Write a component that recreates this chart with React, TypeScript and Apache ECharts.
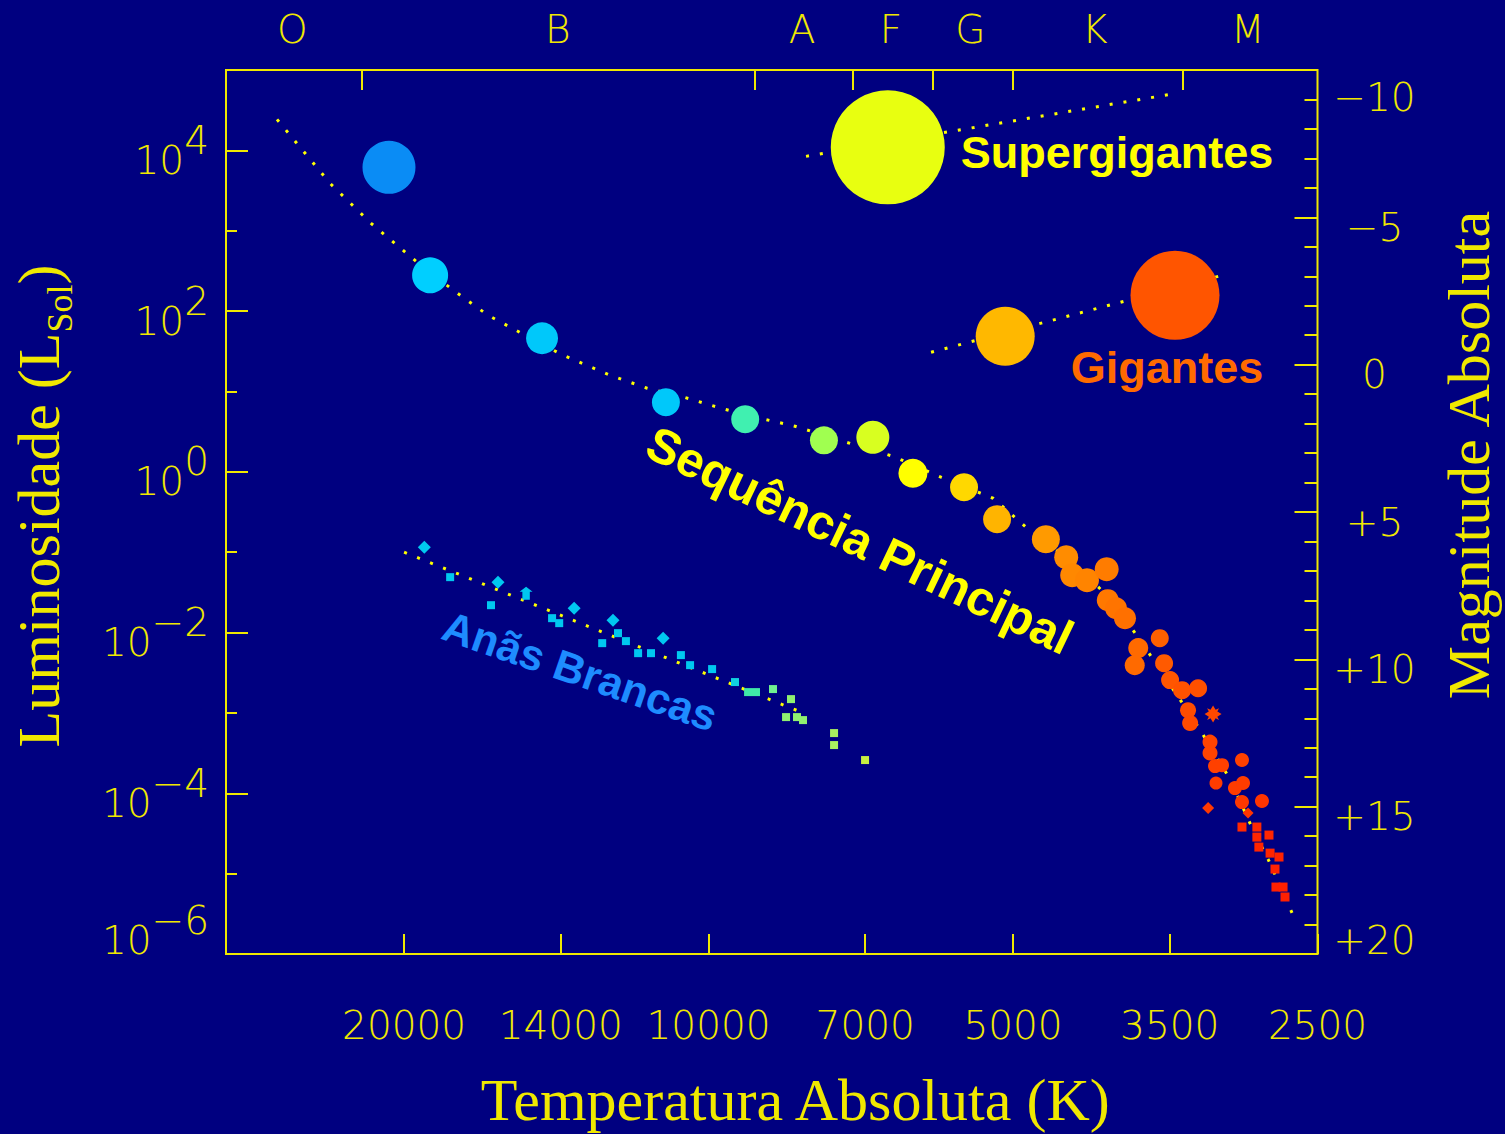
import React, { useEffect, useRef } from 'react';
import * as echarts from 'echarts';

const W = 1505;
const H = 1134;
const BG = '#000080';
const AX = '#f0e800';
const DOT = '#ffff00';

// ---------- axis values ----------
const tempTicks = [20000, 14000, 10000, 7000, 5000, 3500, 2500];
const classBounds = [22000, 9000, 7200, 6000, 5000, 3400];
const classLetters = ['O', 'B', 'A', 'F', 'G', 'K', 'M'];
const classCenters = [25800, 14100, 8080, 6600, 5510, 4150, 2930];
const lumMajorExp = [-6, -4, -2, 0, 2, 4];
const lumMinorExp = [-5, -3, -1, 1, 3];
const tMin = 2500;
const tMax = 30000;
const lumMinExp = -6;
const lumMaxExp = 5;
const magMin = -10;
const magMax = 20;

// ---------- main sequence stars ----------
const msTemp = [20700, 18850, 14610, 11020, 9200, 7690, 6880, 6280, 5590, 5185,
  4640, 4430, 4370, 4225, 4040, 4030, 3955, 3875, 3580, 3760,
  3790, 3545, 3497, 3403, 3281, 3357, 3341, 3171, 3193, 3193,
  3157, 3107, 2969, 3150, 3017, 2962, 3207, 2969, 2928, 2837,
  2969, 2870, 2870, 2792, 2857, 2785, 2729, 2754, 2748, 2704, 2692];
const msLum = [6150, 279, 45.9, 7.34, 4.51, 2.47, 2.69, 0.96, 0.643, 0.257,
  0.145, 0.0867, 0.0518, 0.0448, 0.0615, 0.0253, 0.0201, 0.0151, 0.00852, 0.0064,
  0.00393, 0.00416, 0.00256, 0.00192, 0.00203, 0.00108, 0.000747, 0.000966, 0.000433, 0.000316,
  0.000218, 0.000224, 0.000259, 0.000134, 0.000116, 0.000134, 6.54e-5, 7.77e-5, 5.67e-5, 8.0e-5,
  3.8e-5, 3.8e-5, 2.85e-5, 3.02e-5, 2.14e-5, 1.8e-5, 1.61e-5, 1.14e-5, 6.81e-6, 6.81e-6, 5.12e-6];

// ---------- giants & supergiants ----------
const giantTemp = [5090, 3458];
const giantLum = [48.6, 157];
const superTemp = [6650];
const superLum = [10900];

// ---------- white dwarfs ----------
const wdTemp = [19100, 18010, 16150, 15150, 16410, 13580, 14280, 14050, 12430, 12290,
  12070, 12740, 11090, 11740, 11400, 10650, 10430, 9920, 9416, 9140,
  8976, 8636, 8289, 8383, 8176, 8065, 7515, 7515, 7003];
const wdLum = [0.1154, 0.0489, 0.0424, 0.0309, 0.0219, 0.0201, 0.0151, 0.01309, 0.01426, 0.00983,
  0.00782, 0.00738, 0.00852, 0.00554, 0.00554, 0.00524, 0.00393, 0.00351, 0.00242, 0.001815,
  0.001815, 0.00198, 0.001485, 0.000887, 0.000887, 0.000814, 0.000561, 0.000398, 0.000259];

// ---------- dotted guide curves ----------
const msLineTemp = [26710, 23670, 21560, 19460, 17930, 16520, 15180, 13990, 12510, 11500,
  10570, 9719, 8895, 8213, 7364, 6572, 5891, 5233, 4843, 4392,
  4010, 3762, 3619, 3274, 3051, 2889, 2798, 2649];
const msLineLum = [24300, 3887, 1236, 416, 186.7, 88.7, 50.0, 29.0, 15.9, 10.96,
  8.47, 6.18, 4.64, 3.69, 2.40, 1.563, 0.857, 0.469, 0.199, 0.0795,
  0.0268, 0.00877, 0.00428, 0.000647, 0.00015, 3.29e-5, 1.52e-5, 3.24e-6];
const superLineTemp = [8010, 5680, 3497];
const superLineLum = [8423, 17740, 49700];
const giantLineTemp = [6026, 3079];
const giantLineLum = [30.7, 286.9];
const wdLineTemp = [20000, 8010];
const wdLineLum = [0.1, 0.000966];

// ---------- annotations ----------
const annoText = ['Supergigantes', 'Gigantes', 'Sequência Principal', 'Anãs Brancas'];
const annoTemp = [3946, 3521, 7084, 13400];
const annoLum = [9441, 20.0, 0.141, 0.00331];

// ---------- styles (kept apart from values) ----------
const msSize = [53, 36, 32, 28, 28, 28, 33, 29, 28, 28,
  28, 24, 24, 24, 24, 22, 22, 22, 18, 20,
  20, 18, 18, 18, 18, 16, 16, 17, 15, 15,
  14, 14, 14, 13, 14, 14, 12, 14, 11, 14,
  9, 9, 9, 9, 9, 9, 9, 9, 9, 9, 9];
const msColor = ['#0a8cf5', '#00cfff', '#00c8fa', '#00c8fa', '#40f0b0', '#a0ff50', '#d8ff20', '#ffff00', '#ffd800', '#ffb400',
  '#ff9a00', '#ff8c00', '#ff8800', '#ff8400', '#ff7c00', '#ff7800', '#ff7400', '#ff7000', '#ff6000', '#ff6a00',
  '#ff6a00', '#ff5a00', '#ff5600', '#ff5200', '#ff5000', '#ff4c00', '#ff4a00', '#ff4800', '#ff4400', '#ff4400',
  '#ff4000', '#ff4000', '#ff4000', '#ff3c00', '#ff3c00', '#ff3c00', '#ff3800', '#ff3800', '#ff3400', '#ff3400',
  '#ff2800', '#ff2800', '#ff2600', '#ff2600', '#ff2400', '#ff2400', '#ff2200', '#ff2200', '#ff2000', '#ff2000', '#ff2000'];
const STAR = 'path://M0,-10L3,-5L7,-7L5,-3L10,0L5,3L7,7L3,5L0,10L-3,5L-7,7L-5,3L-10,0L-5,-3L-7,-7L-3,-5Z';
const ARROW = 'path://M0,-10L7,-3L4,-3L4,8L-4,8L-4,-3L-7,-3Z';
const msSymbol = msTemp.map((_, i) => (i === 27 ? STAR : i === 36 || i === 38 ? 'diamond' : i >= 40 ? 'rect' : 'circle'));
const giantSize = [59, 89];
const giantColor = ['#ffb800', '#ff5500'];
const superSize = [114];
const superColor = ['#e8ff10'];
const wdSymbol = ['diamond', 'rect', 'diamond', ARROW, 'rect', 'diamond', 'rect', 'rect', 'diamond', 'rect',
  'rect', 'rect', 'diamond', 'rect', 'rect', 'rect', 'rect', 'rect', 'rect', 'rect',
  'rect', 'rect', 'rect', 'rect', 'rect', 'rect', 'rect', 'rect', 'rect'];
const wdSize = wdSymbol.map((s) => (s === 'rect' ? 8 : 13));
const wdColor = ['#00c8f0', '#00c8f0', '#00c8f0', '#00c8f0', '#00c8f0', '#00c8f0', '#00c8f0', '#00c8f0', '#00c8f0', '#00c8f0',
  '#00c8f0', '#00c8f0', '#00c8f0', '#00c8f0', '#00c8f0', '#00c8f0', '#00c8f0', '#00c8f0', '#10d0e0', '#40e8a8',
  '#40e8a8', '#70f090', '#90f070', '#90f070', '#90f070', '#90f070', '#a8f060', '#a8f060', '#c8f040'];
const annoStyle = [
  { color: '#ffff00', border: '#a00000', size: 45, rotate: 0 },
  { color: '#ff6a00', border: '#a00000', size: 45, rotate: 0 },
  { color: '#ffff00', border: '#a00000', size: 49, rotate: -25.5 },
  { color: '#1e8cff', border: '#0040a0', size: 43, rotate: -19 },
];

const lg = Math.log10;
const pts = (t: number[], l: number[]) => t.map((v, i) => [lg(v), lg(l[i])]);

const tickFont = { color: AX, fontFamily: 'DejaVu Sans', fontSize: 39, fontWeight: 200 };
const titleFont = { color: AX, fontFamily: 'Liberation Serif', fontSize: 60 };
const tickLine = { color: AX, width: 2 };
const noLine = { show: false, onZero: false };

function expText(e: number): string {
  return e < 0 ? '\u2212' + String(-e) : String(e);
}

function buildOption(): any {
  const dotted = (t: number[], l: number[]) => ({
    type: 'line',
    data: pts(t, l),
    showSymbol: false,
    symbol: 'none',
    silent: true,
    z: 1,
    lineStyle: { color: DOT, width: 3, type: [3, 11], cap: 'butt' },
  });
  const scatter = (t: number[], l: number[], size: number[], color: string[], symbol?: string[]) => ({
    type: 'scatter',
    z: 3,
    silent: true,
    data: pts(t, l).map((v, i) => ({
      value: v,
      symbol: symbol ? symbol[i] : 'circle',
      symbolSize: size[i],
      itemStyle: { color: color[i], opacity: 1 },
    })),
  });

  return {
    animation: false,
    backgroundColor: BG,
    grid: {
      left: 226, right: 187.5, top: 70, bottom: 180,
      show: true, borderColor: AX, borderWidth: 2, backgroundColor: 'transparent',
      containLabel: false, outerBoundsMode: 'none',
    },
    xAxis: [
      {
        type: 'value', position: 'bottom', min: lg(tMin), max: lg(tMax), inverse: true,
        axisLine: noLine, splitLine: { show: false },
        axisTick: { show: true, inside: true, length: 20, lineStyle: tickLine, customValues: tempTicks.map(lg) },
        axisLabel: {
          show: true, margin: 52, customValues: tempTicks.map(lg), ...tickFont,
          formatter: (v: number) => String(Math.round(Math.pow(10, v))),
        },
        name: 'Temperatura Absoluta (K)', nameLocation: 'middle', nameGap: 116, nameMoveOverlap: false,
        nameTextStyle: { ...titleFont, padding: [0, 0, 0, 47] },
      },
      {
        type: 'value', position: 'top', min: lg(tMin), max: lg(tMax), inverse: true,
        axisLine: noLine, splitLine: { show: false },
        axisTick: { show: true, inside: true, length: 20, lineStyle: tickLine, customValues: classBounds.map(lg) },
        axisLabel: {
          show: true, margin: 21, customValues: classCenters.map(lg), ...tickFont,
          formatter: (v: number) => {
            let best = 0;
            classCenters.forEach((c, i) => {
              if (Math.abs(lg(c) - v) < Math.abs(lg(classCenters[best]) - v)) best = i;
            });
            return classLetters[best];
          },
        },
      },
    ],
    yAxis: [
      {
        type: 'value', position: 'left', min: lumMinExp, max: lumMaxExp,
        axisLine: noLine, splitLine: { show: false },
        axisTick: { show: true, inside: true, length: 22, lineStyle: tickLine, customValues: lumMajorExp },
        axisLabel: {
          show: true, margin: 17, customValues: lumMajorExp, ...tickFont,
          formatter: (v: number) => {
            const e = Math.round(v);
            return e === lumMinExp ? `{bl|10}{sl|${expText(e)}}` : `{b|10}{s|${expText(e)}}`;
          },
          rich: {
            b: { ...tickFont, padding: [20, 0, 0, 0] },
            s: { ...tickFont, padding: [0, 0, 20, 0] },
            bl: { ...tickFont, padding: [0, 0, 28, 0] },
            sl: { ...tickFont, padding: [0, 0, 68, 0] },
          },
        },
        name: '{a|Luminosidade (L}{s|Sol}{a|)}', nameLocation: 'middle', nameGap: 148, nameMoveOverlap: false,
        nameTextStyle: {
          ...titleFont, padding: [0, 0, 0, 12],
          rich: {
            a: { ...titleFont },
            s: { ...titleFont, fontSize: 36, padding: [42, 0, 0, 0] },
          },
        },
      },
      {
        type: 'value', position: 'left', min: lumMinExp, max: lumMaxExp,
        axisLine: noLine, splitLine: { show: false },
        axisTick: { show: true, inside: true, length: 11, lineStyle: tickLine, customValues: lumMinorExp },
        axisLabel: { show: false },
      },
      {
        type: 'value', position: 'right', min: magMin, max: magMax, interval: 5, inverse: true,
        axisLine: noLine, splitLine: { show: false },
        axisTick: { show: true, inside: true, length: 23, lineStyle: tickLine },
        minorTick: { show: true, splitNumber: 5, length: 13, lineStyle: tickLine },
        axisLabel: {
          show: true, margin: 57, align: 'center', ...tickFont,
          formatter: (v: number) => {
            const t = v < 0 ? '\u2212' + String(-v) : v > 0 ? '+' + String(v) : '0';
            const st = v === magMin ? 't' : v === magMax ? 'e' : 'm';
            return `{${st}|${t}}`;
          },
          rich: {
            m: { ...tickFont, padding: [20, 0, 0, 0] },
            t: { ...tickFont, padding: [54, 0, 0, 0] },
            e: { ...tickFont, padding: [0, 0, 28, 0] },
          },
        },
        name: 'Magnitude Absoluta', nameLocation: 'middle', nameGap: 121, nameMoveOverlap: false,
        nameTextStyle: { ...titleFont, padding: [0, 0, 0, 114] },
      },
    ],
    series: [
      dotted(msLineTemp, msLineLum),
      dotted(superLineTemp, superLineLum),
      dotted(giantLineTemp, giantLineLum),
      dotted(wdLineTemp, wdLineLum),
      scatter(msTemp, msLum, msSize, msColor, msSymbol),
      scatter(giantTemp, giantLum, giantSize, giantColor),
      scatter(superTemp, superLum, superSize, superColor),
      scatter(wdTemp, wdLum, wdSize, wdColor, wdSymbol),
      {
        type: 'scatter',
        z: 5,
        silent: true,
        symbolSize: 1,
        itemStyle: { color: 'rgba(0,0,0,0)', opacity: 1 },
        data: pts(annoTemp, annoLum).map((v, i) => ({
          value: v,
          label: {
            show: true,
            position: 'inside',
            formatter: annoText[i],
            rotate: annoStyle[i].rotate,
            fontFamily: 'Liberation Sans',
            fontWeight: 'bold',
            fontSize: annoStyle[i].size,
            color: annoStyle[i].color,
            opacity: 1,
            textShadowColor: annoStyle[i].border,
            textShadowBlur: 0,
            textShadowOffsetX: 1,
            textShadowOffsetY: 1,
            textBorderWidth: 0,
          },
        })),
      },
    ],
  };
}

export default function App() {
  const ref = useRef<HTMLDivElement>(null);
  useEffect(() => {
    document.body.style.margin = '0';
    document.body.style.background = BG;
    const chart = echarts.init(ref.current as HTMLDivElement, null, { renderer: 'svg' });
    chart.setOption(buildOption());
    return () => chart.dispose();
  }, []);
  return <div ref={ref} style={{ width: W, height: H, background: BG }} />;
}
